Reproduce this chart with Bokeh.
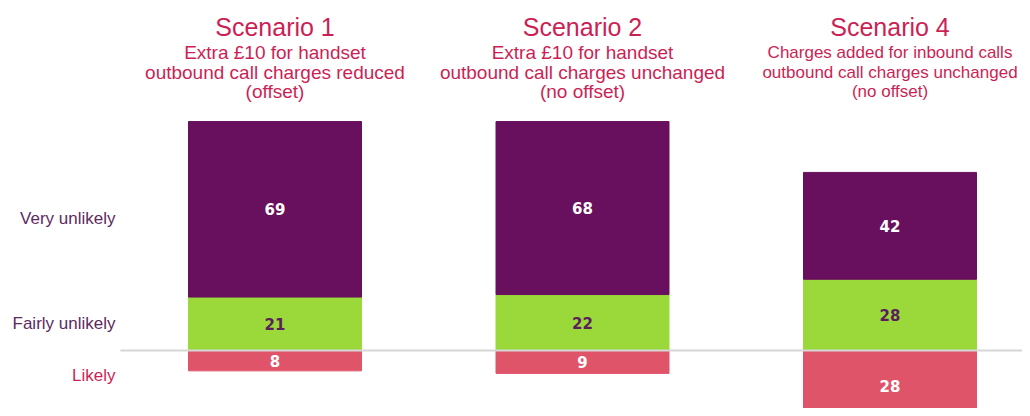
from bokeh.plotting import figure
from bokeh.models import Range1d, ColumnDataSource
from bokeh.core.properties import value
from bokeh.embed import file_html
from bokeh.resources import INLINE

# ---- data ----
scenarios = ["Scenario 1", "Scenario 2", "Scenario 4"]
subtitles = [
    ["Extra \u00a310 for handset", "outbound call charges reduced", "(offset)"],
    ["Extra \u00a310 for handset", "outbound call charges unchanged", "(no offset)"],
    ["Charges added for inbound calls", "outbound call charges unchanged", "(no offset)"],
]
categories = ["Very unlikely", "Fairly unlikely", "Likely"]
very_unlikely = [69, 68, 42]
fairly_unlikely = [21, 22, 28]
likely = [8, 9, 28]

# ---- layout helpers (pixel geometry of the picture) ----
W, H = 1022, 408
PX_X = 307.5          # pixels per category step
PX_Y = 2.544          # pixels per percentage point
X0_PX, BASE_PX = 274.5, 350.0   # px of first category centre / baseline

def ydat(py):
    return (BASE_PX - py) / PX_Y

def xdat(px):
    return (px - X0_PX) / PX_X

PURPLE = "#68105e"
GREEN = "#9bd93a"
RED = "#e0546a"
CRIMSON = "#cc1f55"
LABEL_PURPLE = "#5e2a62"

p = figure(width=W, height=H, output_backend="svg", toolbar_location=None,
           x_range=Range1d(xdat(0), xdat(W)), y_range=Range1d(ydat(H), ydat(0)),
           min_border=0, min_border_left=0, min_border_right=0,
           min_border_top=0, min_border_bottom=0)
p.axis.visible = False
p.grid.visible = False
p.outline_line_color = None
p.background_fill_color = "white"
p.border_fill_color = "white"

xs = list(range(len(scenarios)))
bw = 173 / PX_X

src = ColumnDataSource(dict(
    x=xs,
    g_top=fairly_unlikely,
    p_top=[a + b for a, b in zip(fairly_unlikely, very_unlikely)],
    r_bot=[-v for v in likely],
))
p.vbar(x="x", bottom=0, top="g_top", width=bw, source=src, fill_color=GREEN, line_color=GREEN)
p.vbar(x="x", bottom="g_top", top="p_top", width=bw, source=src, fill_color=PURPLE, line_color=PURPLE)
p.vbar(x="x", bottom="r_bot", top=0, width=bw, source=src, fill_color=RED, line_color=RED)

# baseline
p.segment(x0=[xdat(120)], y0=[0], x1=[xdat(1040)], y1=[0], line_color="#d6d6d6", line_width=2)

# value labels
lab_font = value("DejaVu Sans")
p.text(x=xs, y=[f + v / 2 for f, v in zip(fairly_unlikely, very_unlikely)],
       text=[str(v) for v in very_unlikely], text_color="white", text_font=lab_font,
       text_font_size="15px", text_font_style="bold", text_align="center", text_baseline="middle")
p.text(x=xs, y=[v / 2 for v in fairly_unlikely],
       text=[str(v) for v in fairly_unlikely], text_color="#5a1f5c", text_font=lab_font,
       text_font_size="15px", text_font_style="bold", text_align="center", text_baseline="middle")
p.text(x=xs, y=[-v / 2 for v in likely],
       text=[str(v) for v in likely], text_color="white", text_font=lab_font,
       text_font_size="15px", text_font_style="bold", text_align="center", text_baseline="middle")

# category labels on the left
cat_y_px = [218, 323, 375]
p.text(x=[xdat(115)] * 3, y=[ydat(v) for v in cat_y_px], text=categories,
       text_color=[LABEL_PURPLE, LABEL_PURPLE, CRIMSON], text_font=value("Liberation Sans"),
       text_font_size="17px", text_align="right", text_baseline="middle")

# scenario titles
p.text(x=xs, y=[ydat(26)] * 3, text=scenarios, text_color=CRIMSON,
       text_font=value("Liberation Sans"), text_font_size="25px",
       text_align="center", text_baseline="middle")
sub_y_px = [52, 72, 91]
sub_sizes = ["19px", "19px", "17px"]   # last column shrunk so it fits inside the page edge
for i in range(3):
    p.text(x=xs, y=[ydat(sub_y_px[i])] * 3, text=[s[i] for s in subtitles],
           text_color=CRIMSON, text_font=value("Liberation Sans"), text_font_size=sub_sizes,
           text_align="center", text_baseline="middle")

open("out.html", "w").write(file_html(p, INLINE))
